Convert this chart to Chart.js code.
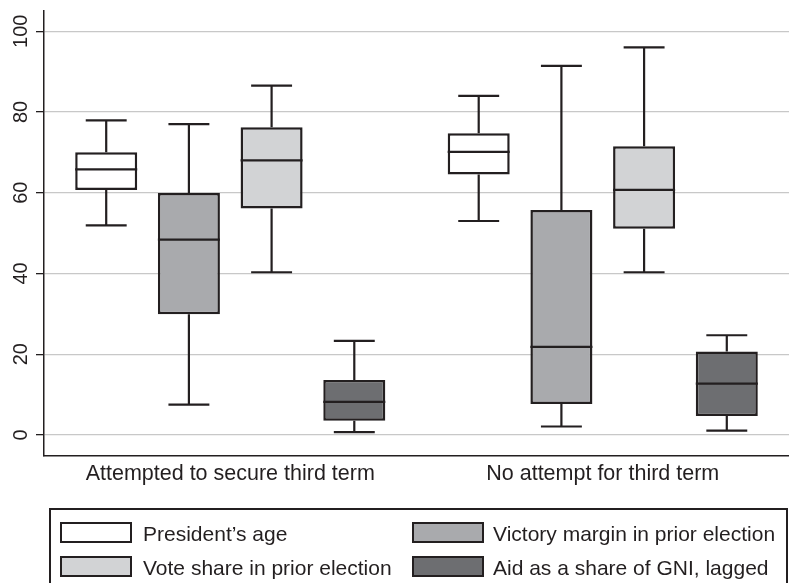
<!DOCTYPE html>
<html>
<head>
<meta charset="utf-8">
<script src="https://cdn.jsdelivr.net/npm/chart.js@4.4.1/dist/chart.umd.min.js"></script>
<style>
  html, body { margin: 0; padding: 0; background: #ffffff; }
  #wrap { position: relative; width: 789px; height: 583px; overflow: hidden; background: #fff; }
  #c { position: absolute; left: 0; top: 0; }
  .legend-frame { position: absolute; left: 49px; top: 508px; width: 739px; height: 100px; border: 2px solid #231f20; box-sizing: border-box; }
  .sw { position: absolute; width: 72px; height: 21px; border: 2px solid #231f20; box-sizing: border-box; }
  .lt { position: absolute; font-family: "Liberation Sans", Arial, sans-serif; font-size: 21px; line-height: 21px; color: #231f20; white-space: nowrap; }
</style>
</head>
<body>
<div id="wrap">
  <canvas id="c" width="789" height="583"></canvas>
  <div class="legend-frame"></div>
  <div id="legend"></div>
</div>
<script>
// ---- data ----
const categories = ["Attempted to secure third term", "No attempt for third term"];
const seriesNames = ["President\u2019s age", "Victory margin in prior election", "Vote share in prior election", "Aid as a share of GNI, lagged"];
// five-number summaries per category: [lower whisker, q1, median, q3, upper whisker]
const presidentAge   = [[51.9, 60.7, 65.8, 70.0, 77.9], [53.0, 64.5, 70.1, 74.7, 84.0]];
const victoryMargin  = [[7.5, 29.9, 48.4, 59.9, 77.0], [2.1, 7.7, 21.8, 55.7, 91.4]];
const voteShare      = [[40.3, 56.1, 68.0, 76.2, 86.5], [40.3, 51.1, 60.7, 71.5, 96.0]];
const aidShare       = [[0.7, 3.5, 8.2, 13.6, 23.3], [1.1, 4.7, 12.7, 20.7, 24.7]];
const yTicks = [0, 20, 40, 60, 80, 100];

// ---- style ----
const fills = ["#ffffff", "#a9aaad", "#d2d3d5", "#6d6e71"];
const ink = "#231f20";
const FONT = "'Liberation Sans', Arial, sans-serif";

const allSeries = [presidentAge, victoryMargin, voteShare, aidShare];

const datasets = allSeries.map((s, i) => ({
  label: seriesNames[i],
  data: s.map(v => [v[1], v[3]]),
  stats: s,
  backgroundColor: fills[i],
  borderColor: ink,
  borderWidth: 2.5,
  borderSkipped: false,
  categoryPercentage: 0.888,
  barPercentage: 0.75
}));

const boxPlugin = {
  id: 'boxWhiskers',
  beforeDatasetsDraw(chart) {
    const ctx = chart.ctx, y = chart.scales.y;
    ctx.save();
    ctx.strokeStyle = ink;
    ctx.lineWidth = 2.2;
    chart.data.datasets.forEach((ds, i) => {
      const meta = chart.getDatasetMeta(i);
      meta.data.forEach((bar, j) => {
        const p = bar.getProps(['x', 'width'], true);
        const st = ds.stats[j];
        const cap = p.width * 0.66 / 2;
        const yLo = y.getPixelForValue(st[0]), yQ1 = y.getPixelForValue(st[1]);
        const yQ3 = y.getPixelForValue(st[3]), yHi = y.getPixelForValue(st[4]);
        ctx.beginPath();
        ctx.moveTo(p.x, yHi); ctx.lineTo(p.x, yQ3);
        ctx.moveTo(p.x, yQ1); ctx.lineTo(p.x, yLo);
        ctx.moveTo(p.x - cap, yHi); ctx.lineTo(p.x + cap, yHi);
        ctx.moveTo(p.x - cap, yLo); ctx.lineTo(p.x + cap, yLo);
        ctx.stroke();
      });
    });
    ctx.restore();
  },
  afterDatasetsDraw(chart) {
    const ctx = chart.ctx, y = chart.scales.y;
    ctx.save();
    ctx.strokeStyle = ink;
    ctx.lineWidth = 2.3;
    chart.data.datasets.forEach((ds, i) => {
      const meta = chart.getDatasetMeta(i);
      meta.data.forEach((bar, j) => {
        const p = bar.getProps(['x', 'width'], true);
        const ym = y.getPixelForValue(ds.stats[j][2]);
        ctx.beginPath();
        ctx.moveTo(p.x - p.width / 2, ym); ctx.lineTo(p.x + p.width / 2, ym);
        ctx.stroke();
      });
    });
    ctx.restore();
  }
};

new Chart(document.getElementById('c'), {
  type: 'bar',
  data: { labels: categories, datasets },
  options: {
    responsive: false,
    devicePixelRatio: 1,
    animation: false,
    layout: { padding: { left: 0, top: 11, right: 0, bottom: 87 } },
    plugins: { legend: { display: false }, tooltip: { enabled: false } },
    scales: {
      x: {
        grid: { display: false, drawTicks: false },
        border: { display: true, color: ink, width: 1.5 },
        ticks: { color: ink, font: { family: FONT, size: 21.5 }, padding: 5, maxRotation: 0, minRotation: 0 },
        afterFit(s) { s.height = 40; s.paddingLeft = 0; s.paddingRight = 0; }
      },
      y: {
        min: -5.2,
        max: 105,
        afterBuildTicks(s) { s.ticks = yTicks.map(v => ({ value: v })); },
        grid: { color: '#c8c8c8', lineWidth: 1.3, tickLength: 8, tickColor: ink, tickWidth: 1.3 },
        border: { display: true, color: ink, width: 1.5 },
        ticks: { color: ink, font: { family: FONT, size: 20 }, padding: -2, minRotation: 90, maxRotation: 90, crossAlign: 'center' },
        afterFit(s) { s.width = 44; s.paddingTop = 0; s.paddingBottom = 0; }
      }
    }
  },
  plugins: [boxPlugin]
});

// ---- legend (HTML text) ----
const legendPos = [[60, 522, 143], [412, 522, 493], [60, 556, 143], [412, 556, 493]];
const legendOrder = [0, 1, 2, 3];
const lg = document.getElementById('legend');
legendOrder.forEach((si, k) => {
  const [sx, sy, tx] = legendPos[k];
  const sw = document.createElement('div');
  sw.className = 'sw';
  sw.style.left = sx + 'px'; sw.style.top = sy + 'px'; sw.style.background = fills[si];
  lg.appendChild(sw);
  const t = document.createElement('div');
  t.className = 'lt';
  t.textContent = seriesNames[si];
  t.style.left = tx + 'px'; t.style.top = (sy + 1) + 'px';
  lg.appendChild(t);
});
</script>
</body>
</html>
